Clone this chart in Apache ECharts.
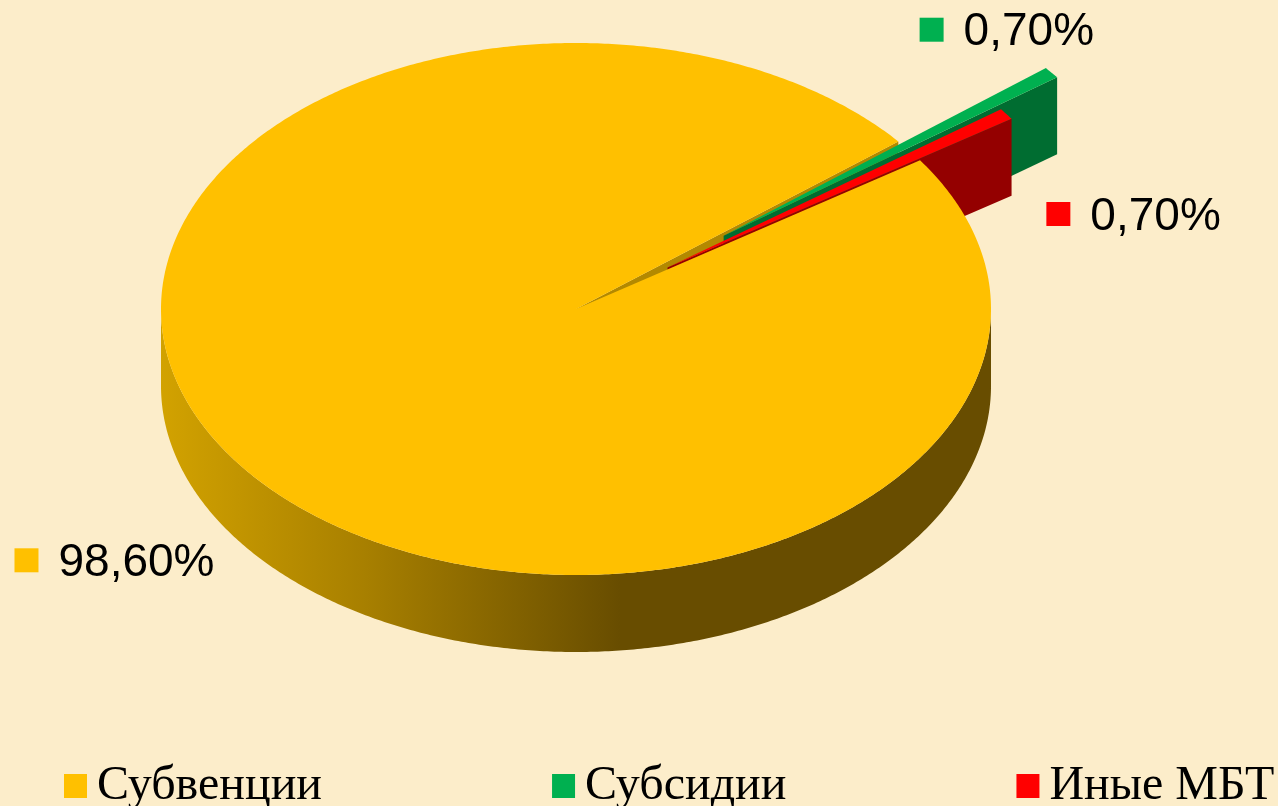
<!DOCTYPE html>
<html>
<head>
<meta charset="utf-8">
<script src="https://cdn.jsdelivr.net/npm/echarts@6/dist/echarts.min.js"></script>
<style>
  html, body { margin: 0; padding: 0; background: #fcedca; }
  #chart { width: 1278px; height: 806px; }
</style>
</head>
<body>
<div id="chart"></div>
<script>
const categories = ["Субвенции", "Субсидии", "Иные МБТ"];
const shares = [98.6, 0.7, 0.7];

const topColors = ["#ffc000", "#00b050", "#ff0000"];
const cutColors = ["#b38900", "#006d31", "#940000"];
const explode = [0, 0.45, 0.27];
// label block (marker + text) offset from the slice's outer point
const labelShift = [[-228, 16], [-132, -43], [40, 100]];

const pie = { cx: 576, cy: 309, rx: 415, ry: 266, depth: 77, start: 34 };
const total = shares.reduce((a, b) => a + b, 0);
const rad = (d) => (d * Math.PI) / 180;

const wallFills = [
  new echarts.graphic.LinearGradient(161, 0, 620, 0, [
    { offset: 0, color: "#d2a200" },
    { offset: 0.45, color: "#a77f00" },
    { offset: 1, color: "#684d00" },
  ], true),
  "#006d31",
  "#940000",
];

function sliceRange(i) {
  let before = 0;
  for (let k = 0; k < i; k++) before += shares[k];
  const hi = pie.start - (before / total) * 360;
  const lo = hi - (shares[i] / total) * 360;
  return [lo, hi];
}

function rim(a, ox, oy, dz) {
  return [pie.cx + ox + pie.rx * Math.cos(rad(a)), pie.cy + oy - pie.ry * Math.sin(rad(a)) + dz];
}

function arc(a0, a1, ox, oy, dz) {
  const n = Math.max(2, Math.ceil(Math.abs(a1 - a0) / 0.5));
  const pts = [];
  for (let k = 0; k <= n; k++) pts.push(rim(a0 + ((a1 - a0) * k) / n, ox, oy, dz));
  return pts;
}

function fmt(v) {
  return v.toFixed(2).replace(".", ",") + "%";
}

function renderSlice(params, api) {
  const i = params.seriesIndex;
  const [lo, hi] = sliceRange(i);
  const mid = (lo + hi) / 2;
  const e = explode[i];
  const ox = e * pie.rx * Math.cos(rad(mid));
  const oy = -e * pie.ry * Math.sin(rad(mid));
  const apex = [pie.cx + ox, pie.cy + oy];
  const children = [];

  // cut faces turned towards the viewer
  const faces = [];
  if (Math.cos(rad(lo)) > 0) faces.push(lo);
  if (Math.cos(rad(hi)) < 0) faces.push(hi);
  faces.forEach((a) => {
    children.push({
      type: "polygon",
      z2: 1 + i,
      silent: true,
      shape: { points: [apex, rim(a, ox, oy, 0), rim(a, ox, oy, pie.depth), [apex[0], apex[1] + pie.depth]] },
      style: { fill: cutColors[i] },
    });
  });

  // outer wall, front half only
  for (let k = -2; k <= 1; k++) {
    const a0 = Math.max(lo, 180 + 360 * k);
    const a1 = Math.min(hi, 360 + 360 * k);
    if (a1 > a0) {
      children.push({
        type: "polygon",
        z2: 1 + i,
        silent: true,
        shape: { points: arc(a0, a1, ox, oy, 0).concat(arc(a1, a0, ox, oy, pie.depth)) },
        style: { fill: wallFills[i] },
      });
    }
  }

  // top face
  children.push({
    type: "polygon",
    z2: 10,
    silent: true,
    shape: { points: [apex].concat(arc(lo, hi, ox, oy, 0)) },
    style: { fill: topColors[i] },
  });

  // data label
  const outer = rim(mid, ox, oy, Math.sin(rad(mid)) < 0 ? pie.depth : 0);
  const mx = outer[0] + labelShift[i][0];
  const my = outer[1] + labelShift[i][1];
  children.push({
    type: "rect",
    z2: 20,
    silent: true,
    shape: { x: mx, y: my - 12, width: 24, height: 24 },
    style: { fill: topColors[i] },
  });
  children.push({
    type: "text",
    z2: 20,
    silent: true,
    x: mx + 44,
    y: my + 3,
    style: {
      text: fmt(api.value(0)),
      font: '46px "Liberation Sans"',
      fill: "#000",
      align: "left",
      verticalAlign: "middle",
    },
  });

  return { type: "group", children };
}

const chart = echarts.init(document.getElementById("chart"));

const option = {
  backgroundColor: "#fcedca",
  animation: false,
  legend: {
    data: categories,
    left: 59,
    top: 757,
    width: 1219,
    icon: "rect",
    itemWidth: 23,
    itemHeight: 24,
    itemGap: 230,
    selectedMode: false,
    textStyle: {
      fontFamily: "Liberation Serif",
      fontSize: 48,
      lineHeight: 48,
      color: "#000",
      padding: [0, 0, 0, 5],
    },
  },
  series: categories.map((name, i) => ({
    name: name,
    type: "custom",
    coordinateSystem: "none",
    itemStyle: { color: topColors[i] },
    renderItem: renderSlice,
    data: [[shares[i]]],
  })),
};

chart.setOption(option);
</script>
</body>
</html>
